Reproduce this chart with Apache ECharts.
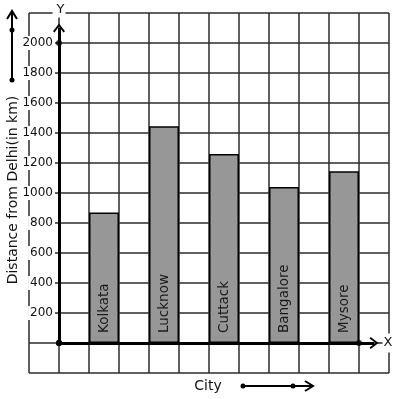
<!DOCTYPE html>
<html>
<head>
<meta charset="utf-8">
<script src="https://cdn.jsdelivr.net/npm/echarts@6/dist/echarts.min.js"></script>
<style>
  html, body { margin: 0; padding: 0; background: #fff; }
  #chart { width: 397px; height: 399px; }
</style>
</head>
<body>
<div id="chart"></div>
<script>
// data
const cities = ['Kolkata', 'Lucknow', 'Cuttack', 'Bangalore', 'Mysore']
const distances = [870, 1445, 1260, 1040, 1145]
const barSlots = [1.5, 3.5, 5.5, 7.5, 9.5]   // centre of each bar, in grid cells
const yMin = -200
const yMax = 2200
const yStep = 200
const yLabelMax = 2000
const axisDots = [[0, 2000], [10, 0]]
const yArrowEnd = 2100
const xArrowEnd = 10.5

const FONT = 'DejaVu Sans'
const chevron = 'path://M6,0 L12,8 L10.4,9.2 L6,2.8 L1.6,9.2 L0,8 Z'
const CELL = 30   // one grid square in px; the axes sit one square in from the paper edge

let chart = echarts.init(document.getElementById('chart'))

let bars = cities.map((c, i) => ({ name: c, value: [barSlots[i], distances[i]] }))

chart.setOption({
  animation: false,
  textStyle: { fontFamily: FONT },
  grid: { left: 29, right: 8, top: 13, bottom: 26, containLabel: false, outerBoundsMode: 'none' },
  xAxis: {
    type: 'value',
    min: -1,
    max: 11,
    interval: 1,
    offset: -CELL,
    name: 'X',
    nameLocation: 'end',
    nameGap: -1,
    nameTextStyle: {
      fontFamily: FONT, fontSize: 13, color: '#111',
      align: 'center', verticalAlign: 'middle',
      backgroundColor: '#fff', padding: [3, 1]
    },
    axisLine: { show: false, onZero: false },
    axisTick: { show: false },
    axisLabel: { show: false },
    splitLine: { show: true, lineStyle: { color: '#2b2b2b', width: 1.5 } }
  },
  yAxis: {
    type: 'value',
    min: yMin,
    max: yMax,
    interval: yStep,
    offset: -CELL,
    name: 'Y',
    nameLocation: 'end',
    nameGap: 3,
    nameTextStyle: {
      fontFamily: FONT, fontSize: 13, color: '#111',
      align: 'center', verticalAlign: 'middle',
      backgroundColor: '#fff', padding: [1, 1, 1, 4]
    },
    axisLine: { show: false, onZero: false },
    axisTick: { show: false },
    axisLabel: {
      fontFamily: FONT,
      fontSize: 12,
      color: '#111',
      margin: 4,
      formatter: v => (v > 0 && v <= yLabelMax ? '{t|' + v + '}' : ''),
      rich: {
        t: { fontFamily: FONT, fontSize: 12, color: '#111', backgroundColor: '#fff', padding: [1, 2] }
      }
    },
    splitLine: { show: true, lineStyle: { color: '#2b2b2b', width: 1.5 } }
  },
  series: [
    {
      type: 'bar',
      data: bars,
      barWidth: CELL,
      itemStyle: { color: '#979797', borderColor: '#000', borderWidth: 1.5 },
      label: {
        show: true,
        position: 'insideBottom',
        distance: 10,
        rotate: 90,
        align: 'left',
        verticalAlign: 'middle',
        fontFamily: FONT,
        fontSize: 13.5,
        color: '#1a1a1a',
        formatter: p => p.name
      },
      markLine: {
        silent: true,
        animation: false,
        lineStyle: { color: '#000', width: 3, type: 'solid' },
        label: { show: false },
        data: [
          [
            { coord: [0, 0], symbol: 'circle', symbolSize: 6 },
            { coord: [0, yArrowEnd], symbol: chevron, symbolSize: [12, 9] }
          ],
          [
            { coord: [0, 0], symbol: 'circle', symbolSize: 6 },
            { coord: [xArrowEnd, 0], symbol: chevron, symbolSize: [12, 9] }
          ]
        ]
      }
    },
    {
      type: 'scatter',
      data: axisDots,
      symbolSize: 6,
      itemStyle: { color: '#000' },
      z: 5
    }
  ],
  graphic: [
    {
      type: 'text',
      x: 13, y: 190,
      rotation: Math.PI / 2,
      style: {
        text: 'Distance from Delhi(in km)',
        fontFamily: FONT, fontSize: 14, fill: '#111',
        align: 'center', verticalAlign: 'middle'
      }
    },
    {
      type: 'text',
      x: 208, y: 386,
      style: {
        text: 'City',
        fontFamily: FONT, fontSize: 14, fill: '#111',
        align: 'center', verticalAlign: 'middle'
      }
    },
    // direction arrow under the x axis title
    { type: 'line', shape: { x1: 243, y1: 386, x2: 312, y2: 386 }, style: { stroke: '#000', lineWidth: 2 } },
    { type: 'polyline', shape: { points: [[305, 381], [313, 386], [305, 391]] }, style: { stroke: '#000', lineWidth: 2, fill: null } },
    { type: 'circle', shape: { cx: 243, cy: 386, r: 2.5 }, style: { fill: '#000' } },
    { type: 'circle', shape: { cx: 293, cy: 386, r: 2.5 }, style: { fill: '#000' } },
    // direction arrow beside the y axis title
    { type: 'line', shape: { x1: 12, y1: 80, x2: 12, y2: 12 }, style: { stroke: '#000', lineWidth: 2 } },
    { type: 'polyline', shape: { points: [[7, 19], [12, 11], [17, 19]] }, style: { stroke: '#000', lineWidth: 2, fill: null } },
    { type: 'circle', shape: { cx: 12, cy: 80, r: 2.5 }, style: { fill: '#000' } },
    { type: 'circle', shape: { cx: 12, cy: 30, r: 2.5 }, style: { fill: '#000' } }
  ]
})
</script>
</body>
</html>
